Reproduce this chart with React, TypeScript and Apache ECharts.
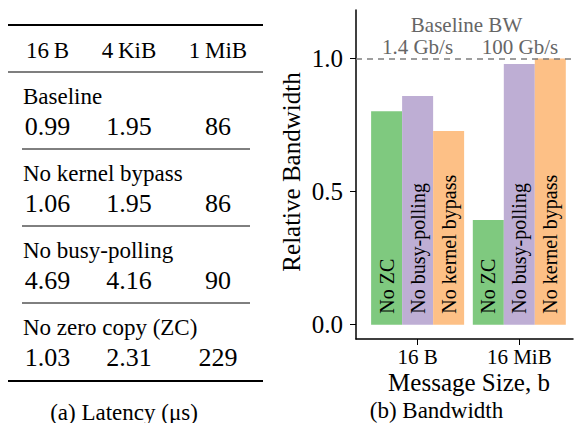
import React, { useEffect, useRef } from "react";
import * as echarts from "echarts";

const FONT = "'Liberation Serif', 'Times New Roman', serif";

// Bandwidth chart data
const sizes = ["16 B", "16 MiB"];
const seriesNames = ["No ZC", "No busy-polling", "No kernel bypass"];
const noZC = [0.802, 0.393];
const noBusyPolling = [0.859, 0.979];
const noKernelBypass = [0.727, 1.0];
const baselineBW = ["1.4 Gb/s", "100 Gb/s"];
const colors = ["#7fc97f", "#beaed4", "#fdc086"];
const yTicks = [0, 0.5, 1.0];

// Latency table data
const latencyHeaders = ["16\u2009B", "4\u2009KiB", "1\u2009MiB"];
const latencyRows = ["Baseline", "No kernel bypass", "No busy-polling", "No zero copy (ZC)"];
const lat16B = ["0.99", "1.06", "4.69", "1.03"];
const lat4KiB = ["1.95", "1.95", "4.16", "2.31"];
const lat1MiB = ["86", "86", "90", "229"];

function txt(text: string, x: number, y: number, size: number, opts: any = {}) {
  return {
    type: "text",
    x,
    y,
    rotation: opts.rotation || 0,
    silent: true,
    style: {
      text,
      fontSize: size,
      fontFamily: FONT,
      fill: opts.fill || "#000",
      align: opts.align || "center",
      verticalAlign: "middle",
      textAlign: opts.align || "center",
      textVerticalAlign: "middle",
    },
  };
}

function hline(x1: number, x2: number, y: number, w: number) {
  return {
    type: "line",
    silent: true,
    shape: { x1, y1: y, x2, y2: y },
    style: { stroke: "#000", lineWidth: w },
  };
}

export default function App() {
  const ref = useRef<HTMLDivElement>(null);
  useEffect(() => {
    if (!ref.current) return;
    const chart = echarts.init(ref.current, null, { renderer: "svg" });

    const colX = [47.5, 129, 218];
    const graphic: any[] = [];
    // Table rules
    graphic.push(hline(8, 263, 25, 2));
    graphic.push(hline(8, 263, 72, 1.2));
    graphic.push(hline(22, 250, 149, 1));
    graphic.push(hline(22, 250, 226, 1));
    graphic.push(hline(22, 250, 303, 1));
    graphic.push(hline(8, 263, 381, 2));
    latencyHeaders.forEach((h, i) => graphic.push(txt(h, colX[i], 50, 23)));
    const cols = [lat16B, lat4KiB, lat1MiB];
    latencyRows.forEach((r, k) => {
      graphic.push(txt(r, 23, 96 + 77 * k, 23, { align: "left" }));
      cols.forEach((c, i) => graphic.push(txt(c[k], colX[i], 126 + 77 * k, 26)));
    });
    graphic.push(txt("(a) Latency (\u03bcs)", 124, 412, 23));
    // Bandwidth annotations
    graphic.push(txt("Baseline BW", 466.5, 24.5, 21, { fill: "#666" }));
    graphic.push(txt(baselineBW[0], 417.5, 46.5, 21, { fill: "#666" }));
    graphic.push(txt(baselineBW[1], 520, 46.5, 21, { fill: "#666" }));
    graphic.push(txt("Relative Bandwidth", 291, 172, 25, { rotation: Math.PI / 2 }));
    graphic.push(txt("Message Size, b", 469, 382, 25));
    graphic.push(txt("(b) Bandwidth", 436.5, 410, 23));

    const values = [noZC, noBusyPolling, noKernelBypass];
    const series: any[] = values.map((vals, s) => ({
      name: seriesNames[s],
      type: "bar",
      barWidth: 31,
      barGap: "0%",
      itemStyle: { color: colors[s] },
      data: vals.map((v, i) => [i, v]),
      label: {
        show: true,
        formatter: () => seriesNames[s],
        position: "insideBottom",
        rotate: 90,
        align: "left",
        verticalAlign: "middle",
        distance: 11,
        fontSize: 20,
        fontFamily: FONT,
        color: "#000",
      },
      markLine:
        s === 2
          ? {
              silent: true,
              symbol: ["none", "none"],
              label: { show: false },
              lineStyle: { type: [6, 5], color: "#7f7f7f", width: 1.5 },
              data: [{ yAxis: 1.0 }],
            }
          : undefined,
    }));

    chart.setOption({
      animation: false,
      grid: { left: 356, right: 1, top: 10, bottom: 84, containLabel: false },
      xAxis: {
        type: "value",
        min: -0.606,
        max: 1.528,
        splitLine: { show: false },
        axisLine: { show: true, onZero: false, lineStyle: { color: "#000", width: 1.5 } },
        axisTick: { show: true, length: 6, customValues: [0, 1], lineStyle: { color: "#000", width: 1 } },
        axisLabel: {
          customValues: [0, 1],
          formatter: (v: number) => sizes[Math.round(v)],
          fontSize: 21,
          fontFamily: FONT,
          color: "#000",
          margin: 7,
        },
      },
      yAxis: {
        type: "value",
        min: -0.054,
        max: 1.182,
        splitLine: { show: false },
        axisLine: { show: true, onZero: false, lineStyle: { color: "#000", width: 1.5 } },
        axisTick: { show: true, length: 6, customValues: yTicks, lineStyle: { color: "#000", width: 1 } },
        axisLabel: {
          customValues: yTicks,
          formatter: (v: number) => v.toFixed(1),
          fontSize: 25,
          fontFamily: FONT,
          color: "#000",
          margin: 13,
        },
      },
      series,
      graphic,
    });
    return () => chart.dispose();
  }, []);
  return (
    <div
      ref={ref}
      style={{ position: "fixed", left: 0, top: 0, width: 574, height: 423, background: "#fff" }}
    />
  );
}
